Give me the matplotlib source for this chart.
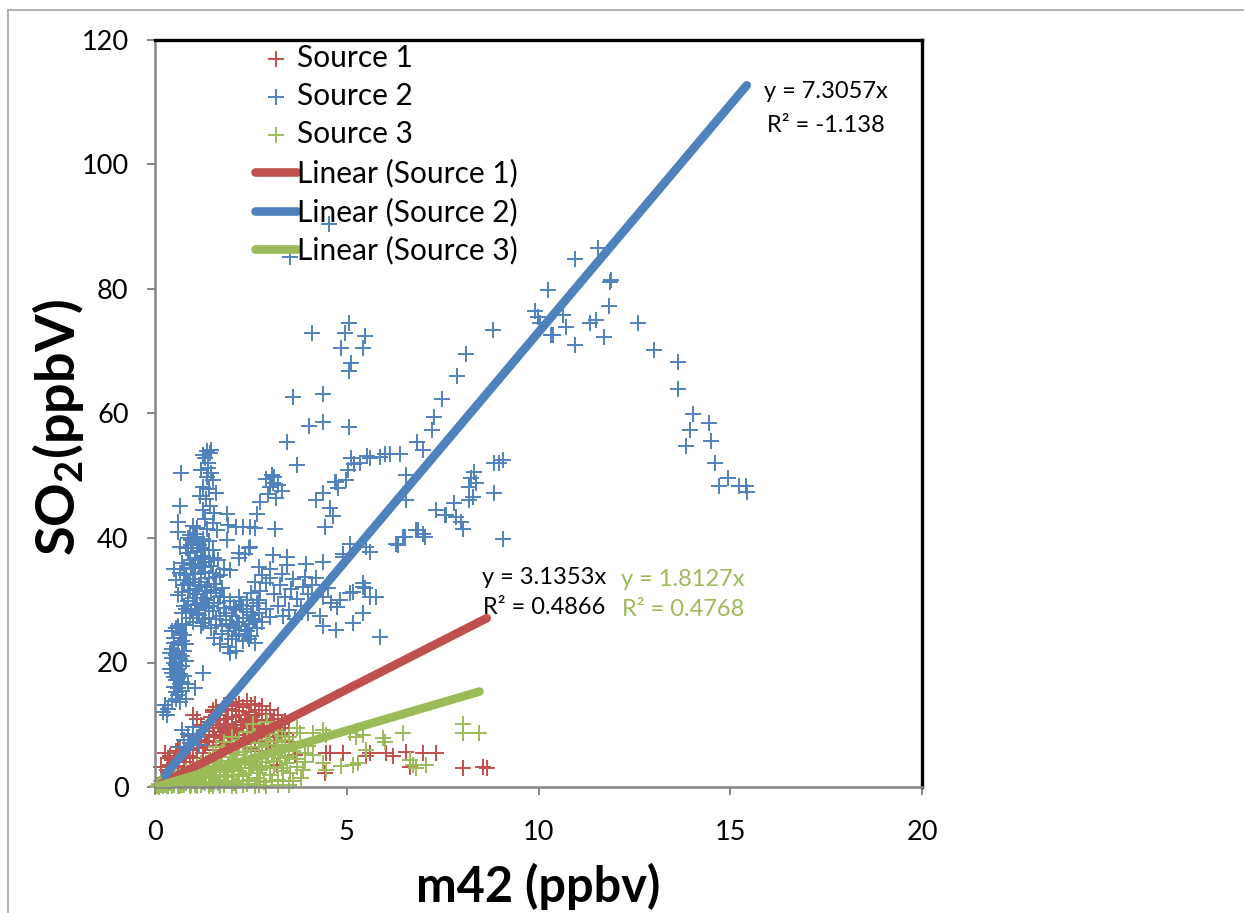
import numpy as np
import matplotlib
matplotlib.use('Agg')
import matplotlib.pyplot as plt
from matplotlib.lines import Line2D

plt.rcParams['font.family'] = ['Lato', 'DejaVu Sans']
plt.rcParams['mathtext.fontset'] = 'custom'
plt.rcParams['mathtext.rm'] = 'Lato'
plt.rcParams['mathtext.bf'] = 'Lato:bold'

# ---------------- data ----------------
series_names = ['Source 1', 'Source 2', 'Source 3']
trend_names = ['Linear (Source 1)', 'Linear (Source 2)', 'Linear (Source 3)']
slopes = [3.1353, 7.3057, 1.8127]
r2_text = ['0.4866', '-1.138', '0.4768']
x_ticks = [0, 5, 10, 15, 20]
y_ticks = [0, 20, 40, 60, 80, 100, 120]

# Source 1 (red)
s1_cluster = [(1.5,12.0),(1.7,11.5),(1.9,12.6),(2.1,13.0),(2.3,12.8),(2.5,13.2),(2.7,12.4),(2.9,11.8),(3.1,11.0),(3.3,10.2),
              (1.4,10.5),(1.6,10.8),(1.8,10.2),(2.0,11.2),(2.2,11.6),(2.4,11.0),(2.6,11.5),(2.8,10.6),(3.0,9.8),(3.2,9.2),
              (1.3,9.0),(1.5,9.4),(1.7,8.8),(1.9,9.6),(2.1,10.0),(2.3,9.4),(2.5,10.2),(2.7,9.0),(2.9,8.6),(3.1,8.0),
              (1.2,7.6),(1.4,8.0),(1.6,7.4),(1.8,8.2),(2.0,8.6),(2.2,7.8),(2.4,8.4),(2.6,7.6),(2.8,7.2),(3.0,6.8),
              (1.1,6.2),(1.3,6.6),(1.5,6.0),(1.7,6.8),(1.9,7.0),(2.1,6.4),(2.3,6.9),(2.5,6.2),(2.7,5.8),(3.3,7.5),
              (0.9,5.0),(1.0,8.2),(1.0,11.6),(1.5,12.4),(2.2,12.2),(2.45,12.0),(2.0,12.4),(2.35,10.6),(1.85,11.0),(2.65,10.8),
              (0.2,1.5),(0.3,2.8),(0.4,3.6),(0.5,4.4),(0.6,3.0),(0.7,5.2),(0.35,4.6),(0.15,3.2),(0.25,5.5),(0.8,4.0),
              (0.45,2.2),(0.55,5.8),(3.4,8.6),(3.5,6.0),(3.65,5.1),(3.17,3.5),(2.9,5.0)]
s1_dense = [(1.6,12.8),(1.8,13.2),(2.0,13.6),(2.2,13.4),(2.4,13.8),(2.6,13.4),(2.8,13.0),(3.0,12.4),(3.2,11.6),(3.4,10.6),
            (1.45,11.2),(1.65,9.9),(1.85,9.3),(2.05,9.1),(2.25,10.4),(2.45,9.6),(2.65,9.8),(2.85,9.4),(3.05,10.4),(3.25,8.4),
            (1.35,7.2),(1.55,8.4),(1.75,7.8),(1.95,8.0),(2.15,8.8),(2.35,7.4),(2.55,8.8),(2.75,8.0),(2.95,7.6),(3.15,6.6),
            (0.6,6.4),(0.9,7.0),(1.2,10.0),(1.1,11.0),(0.4,5.0),(0.75,3.4),(0.85,6.0),(1.0,4.6),(1.25,5.4),(1.6,5.2),
            (3.5,9.5),(3.6,7.2),(3.4,4.8)]
s1_outliers = [(4.47,5.4),(4.56,5.4),(4.43,2.2),(5.51,4.9),(5.6,5.4),(6.03,5.4),(6.55,5.7),(6.64,3.2),
               (6.99,5.4),(7.33,5.4),(8.03,3.0),(8.55,3.2),(8.65,3.0),(4.9,5.4),(6.2,5.0)]

# Source 2 (blue)
s2_upper = [(4.53,90.4),(3.53,85.2),(11.54,86.6),(10.96,84.8),(11.9,81.4),(10.24,79.8),(11.87,81.2),(11.85,77.3),
            (12.59,74.5),(13.02,70.2),(13.65,68.2),(13.65,64.0),(14.04,59.9),(13.95,57.3),(13.85,54.7),(14.45,58.5),
            (14.5,55.6),(14.61,52.1),(14.93,49.7),(14.71,48.4),(15.23,48.4),(15.41,48.4),(15.43,47.4),
            (11.33,74.5),(11.5,75.0),(11.72,72.3),(10.96,71.0),(10.72,73.9),(10.63,75.8),(10.37,72.6),(9.9,76.4),
            (9.98,75.5),(10.03,74.6),(10.33,72.6),(8.81,73.4),(8.1,69.6),(7.87,66.0),(7.49,62.3),(7.28,59.5),
            (7.23,57.3),(6.83,55.5),(6.99,54.2),(9.07,52.5),(8.98,52.0),(8.85,52.0),(8.33,50.6),(8.25,49.6),
            (8.38,48.8),(8.2,48.2),(8.29,46.6),(8.2,46.1),(8.85,47.2),(7.79,45.6),(7.34,44.5),(7.55,43.7),
            (7.86,43.4),(7.99,42.6),(8.03,41.5),(9.07,39.9),(6.86,41.3),(7.03,40.2),(6.51,40.2),(6.34,38.9),(7.6,43.7)]
s2_mid = [(4.10,73.0),(5.06,74.6),(4.95,73.0),(5.47,72.5),(4.84,70.6),(5.43,70.6),(5.12,68.1),(5.05,66.9),
          (3.60,62.7),(4.38,63.1),(4.02,58.0),(4.38,58.7),(5.06,57.8),(3.45,55.5),(3.71,51.8),(5.11,52.9),
          (5.18,51.9),(5.52,53.1),(5.03,50.9),(4.73,49.0),(4.99,49.3),(4.37,47.2),(4.21,46.1),(4.56,44.8),
          (4.63,43.5),(4.43,41.8),(3.13,41.4),(5.34,52.0),(5.6,52.9),(5.86,53.0),(5.99,53.5),(6.12,53.5),
          (6.38,53.5),(6.55,50.1),(6.54,46.1),(4.69,49.0),(4.77,48.0),(5.08,39.1),(4.9,37.5),(5.51,38.6),
          (5.6,37.8),(6.29,39.1),(6.47,40.2),(6.81,41.3),(6.99,40.7),
          (3.08,48.8),(2.9,49.5),(3.0,48.2),(3.1,49.8),(3.2,48.5),(3.3,47.6),(2.95,47.0),(3.15,46.5),(3.05,50.2),
          (2.73,45.8),(2.66,43.9),(2.47,41.8),(2.1,41.8),(2.3,41.8),(2.6,41.6),(1.87,43.9),(1.61,41.3),(1.87,39.7),(1.9,42.1)]
s2_right_low = [(5.86,24.1),(4.38,25.8),(4.73,25.2),(5.16,26.3),(5.43,27.9),(4.82,30.0),(5.08,31.1),(5.42,32.1),
                (5.77,30.6),(4.38,30.5),(5.42,32.8),(5.47,32.0),(5.16,31.3),(5.6,30.5),(4.74,28.9),(3.08,37.3),
                (3.43,37.0),(3.95,35.9),(4.38,36.2),(4.9,37.0),(4.2,33.5),(4.5,32.0),(4.3,27.5),(4.6,29.5)]
s2_col_a = [(1.35,53.9),(1.26,53.4),(1.43,53.6),(1.30,52.8),(1.39,52.0),(1.47,50.4),(1.35,49.8),(1.26,48.2),
            (1.52,49.3),(1.40,47.8),(1.17,46.7),(1.34,46.2),(1.43,45.1),(1.60,47.2),(1.25,44.5),(1.55,44.0),
            (1.30,43.0),(0.65,45.1),(0.60,42.5),(1.0,42.0),(0.67,50.4),(1.1,41.6),(1.5,42.4),(1.2,50.9),
            (1.45,54.2),(1.38,51.2)]
s2_core = [(0.9,40.5),(1.0,39.2),(1.1,40.1),(1.2,38.4),(0.85,37.6),(1.05,36.8),(1.25,37.1),(1.4,39.5),(1.5,38.0),
           (0.7,36.0),(0.95,35.2),(1.15,35.9),(1.3,34.6),(1.45,35.5),(0.8,34.1),(1.0,33.4),(1.2,33.0),(1.35,32.2),
           (1.6,33.8),(0.75,32.5),(0.9,31.6),(1.1,31.0),(1.25,30.4),(1.45,31.2),(0.6,30.8),(0.85,29.9),(1.05,29.2),
           (1.3,28.8),(1.55,29.6),(1.7,30.5),(0.95,28.2),(1.15,27.6),(1.4,27.2),(0.7,27.9),(1.6,27.0),(0.55,33.2),
           (0.5,35.0),(0.65,38.5),(0.6,41.0),(1.35,41.5),(1.65,36.5),(1.8,35.0),(1.75,32.0),(1.0,26.5),(1.2,25.8),
           (1.45,25.5),(0.8,26.0),(1.1,37.8),(0.95,38.8),(1.3,36.2),(1.2,34.3),(0.9,33.0),(1.05,31.8),(1.35,30.0),
           (1.15,28.5),(0.75,29.0),(1.5,34.4),(1.0,35.6),(0.85,40.0),(1.25,39.8),
           (0.95,39.6),(1.15,38.9),(1.05,40.6),(1.3,38.0),(0.8,38.4),(0.9,36.4),(1.2,36.6),(1.4,36.8),(0.75,35.1),
           (1.05,34.2),(1.25,35.4),(1.4,33.6),(0.85,32.8),(1.15,32.4),(1.3,31.5),(1.55,32.6),(0.7,31.4),(1.0,30.4),
           (1.2,29.6),(1.4,29.0),(0.8,28.6),(1.1,28.0),(1.3,27.0),(1.5,28.2),(0.9,27.2),(1.25,26.4),(1.6,31.6),
           (1.7,34.0),(1.55,36.8),(0.65,34.4)]
s2_c2 = [(1.65,29.5),(1.8,28.8),(1.95,29.8),(2.1,28.5),(2.25,29.3),(2.4,28.1),(2.55,29.0),(1.7,27.5),(1.85,26.8),
         (2.0,27.4),(2.15,26.5),(2.3,27.2),(2.45,26.2),(2.6,27.0),(1.75,25.8),(1.9,25.0),(2.05,25.6),(2.2,24.6),
         (2.35,25.3),(2.5,24.2),(2.65,25.5),(1.6,26.0),(2.0,23.8),(2.3,23.5),(2.7,28.0),(2.7,30.0),(1.8,30.6),
         (2.2,30.5),(2.5,31.2),(1.9,22.5),(2.1,21.8),(2.8,26.5),(2.9,28.6),(3.0,27.3),(1.55,24.0),(2.4,30.0),
         (2.6,23.2),(1.7,23.0),(1.85,28.0),(2.05,28.9),(2.3,28.6),(2.5,27.6),(1.95,26.2),(2.2,25.8),(2.4,25.0),
         (2.55,26.6),(2.1,24.2),(2.45,23.8),(1.75,24.5),(2.65,29.6)]
s2_c3 = [(2.75,31.5),(2.9,32.8),(3.1,31.0),(3.25,32.5),(3.4,30.6),(3.55,31.8),(3.7,30.2),(3.85,32.2),(4.0,31.0),
         (2.8,34.0),(3.0,33.6),(3.3,34.2),(3.6,33.4),(3.2,29.0),(3.5,28.5),(3.8,29.0),(3.0,35.0),(2.6,33.0),
         (3.45,35.6),(3.9,33.8),(4.1,32.5),(3.35,27.5),(3.65,27.0),(4.0,28.0),(2.2,36.8),(2.35,37.4),(2.45,38.4),
         (2.47,38.6),(2.2,37.6),(1.95,34.9),(2.7,35.4)]
s2_col_b = [(0.55,25.5),(0.65,24.8),(0.5,24.0),(0.7,23.5),(0.6,22.8),(0.45,22.2),(0.75,21.8),(0.55,21.2),(0.65,20.6),
            (0.5,20.0),(0.7,19.5),(0.6,18.9),(0.45,18.3),(0.75,17.8),(0.55,17.2),(0.65,16.6),(0.5,16.0),(0.7,15.5),
            (0.6,14.8),(0.8,14.2),(0.65,13.6),(0.4,19.0),(0.8,20.3),(0.8,23.0),(0.45,25.0),(0.7,26.2),(0.6,17.5),
            (0.55,15.2),(0.85,16.5),(0.4,21.5),(1.25,18.3),(1.04,15.9),(1.95,21.5),(0.25,13.2),(0.35,12.5),
            (0.3,11.5),(0.45,13.8),(0.2,12.0),(0.7,9.2),(0.85,8.5),(1.0,9.6),(0.75,7.6),(0.95,7.0),(1.1,8.0),
            (0.65,6.4),(1.15,6.8),(0.5,23.2),(0.6,21.8),(0.7,21.0),(0.55,19.6),(0.65,18.2),(0.5,17.6),(0.7,16.9),
            (0.55,14.2),(0.6,25.9),(0.75,24.4),(0.45,20.8),(0.6,15.9)]

# Source 3 (green)
s3_cluster = [(0.05,0.2),(0.1,0.5),(0.15,0.3),(0.2,0.8),(0.25,0.4),(0.3,1.0),(0.35,0.6),(0.4,1.3),(0.45,0.2),
              (0.5,0.9),(0.55,1.5),(0.6,0.5),(0.65,1.8),(0.7,1.1),(0.75,0.3),(0.8,2.0),(0.85,1.4),(0.9,0.7),
              (0.95,2.4),(1.0,1.6),(1.05,0.4),(1.1,2.6),(1.15,1.2),(1.2,3.0),(1.25,0.8),(1.3,2.2),(1.35,3.4),
              (1.4,1.5),(1.45,0.5),(1.5,2.8),(1.55,3.8),(1.6,1.9),(1.65,0.7),(1.7,3.2),(1.75,4.2),(1.8,2.4),
              (1.85,1.0),(1.9,3.6),(1.95,4.8),(2.0,2.7),(2.05,0.6),(2.1,4.0),(2.15,5.2),(2.2,1.8),(2.25,3.0),
              (2.3,5.6),(2.35,4.4),(2.4,0.9),(2.45,2.2),(2.5,6.0),(2.55,3.6),(2.6,4.8),(2.65,1.4),(2.7,6.4),
              (2.75,2.8),(2.8,5.2),(2.85,0.8),(2.9,4.0),(2.95,6.8),(3.0,2.0),(3.05,5.6),(3.1,3.2),(3.15,7.2),
              (3.2,1.2),(3.25,4.6),(3.3,6.2),(3.35,2.6),(3.4,7.6),(3.45,3.8),(3.5,5.0),
              (0.3,0.1),(0.6,0.2),(0.9,0.1),(1.2,0.3),(1.5,0.1),(1.8,0.4),(2.1,0.2),(2.4,0.5),(2.7,0.3),
              (0.4,0.7),(0.7,0.4),(1.0,0.9),(1.3,0.6),(1.6,1.2),(1.9,0.9),
              (2.56,10.2),(2.91,10.5),(2.0,8.0),(2.4,8.8),(1.6,6.5),(1.8,7.2),(2.2,7.5),(2.6,8.2),(3.0,8.5),
              (3.2,9.0),(3.5,8.0),(3.6,6.8),(3.3,8.2)]
s3_dense = [(0.1,0.0),(0.2,0.2),(0.35,0.1),(0.5,0.4),(0.65,0.1),(0.8,0.6),(0.95,0.3),(1.1,0.1),(1.25,1.4),(1.4,0.2),
            (1.55,0.8),(1.7,0.2),(1.85,1.6),(2.0,0.1),(2.15,1.0),(2.3,0.3),(2.45,1.2),(2.6,0.1),(2.75,1.0),(2.9,0.2),
            (3.05,1.0),(3.2,0.3),(3.35,0.9),(3.5,0.3),(2.2,2.6),(2.5,3.0),(2.8,3.4),(3.1,4.2),(3.4,4.6),(1.6,2.6),
            (1.9,2.0),(2.3,2.0),(2.7,2.2),(3.0,3.0),(3.3,3.0),(1.0,2.2),(1.3,1.6),(0.6,1.2),(0.9,1.8),(1.7,4.8),
            (2.0,5.4),(2.4,6.4),(2.7,7.0),(3.2,5.4),(3.6,5.8),(3.7,3.2),(3.8,1.5),(3.6,1.0),(3.9,4.0),(3.2,6.8),
            (2.9,7.6),(2.2,6.6),(1.4,4.4),(1.2,3.8),(0.8,2.6),(0.5,1.8),(0.2,1.2),(0.15,0.9),(2.05,3.4),(2.65,4.0),
            (2.95,5.0),(1.75,5.6),(1.5,4.9),(1.1,3.4)]
s3_outliers = [(3.69,9.4),(3.78,8.6),(4.12,8.6),(4.38,9.2),(4.47,8.4),(5.08,8.6),(5.25,8.1),(5.43,8.4),(5.95,7.8),
               (6.47,8.6),(8.03,10.2),(8.03,8.6),(8.46,8.6),(4.12,5.1),(4.38,3.8),(4.47,2.7),(4.86,3.3),(5.16,3.5),
               (5.29,3.8),(6.64,4.3),(6.73,3.5),(6.81,3.0),(7.07,3.5),(3.86,2.7),(3.52,2.2),(3.7,4.5),(3.9,5.5),
               (4.0,6.6),(5.5,6.0),(6.0,7.2)]

s1 = np.array(s1_cluster + s1_dense + s1_outliers)
s2 = np.array(s2_upper + s2_mid + s2_right_low + s2_col_a + s2_core + s2_c2 + s2_c3 + s2_col_b)
s3 = np.array(s3_cluster + s3_dense + s3_outliers)
series = [s1, s2, s3]
trend_start = [0.15, 0.26, 0.05]

colors = ['#C0504D', '#4F81BD', '#9BBB59']

# ---------------- figure ----------------
W, H = 1244, 913
fig = plt.figure(figsize=(W / 100, H / 100), dpi=100)
fx = lambda px: px / W
fy = lambda py: 1 - py / H

ax = fig.add_axes([fx(155), fy(787), 767 / W, 747 / H])

scat = []
for i, (d, c) in enumerate(zip(series, colors)):
    sc = ax.scatter(d[:, 0], d[:, 1], marker='+', s=130, linewidths=1.4, color=c,
                    clip_on=False, zorder=2 + i * 0.1, label=series_names[i])
    scat.append(sc)

lines = []
for i, (d, c) in enumerate(zip(series, colors)):
    xs = np.array([trend_start[i], d[:, 0].max()])
    ln, = ax.plot(xs, slopes[i] * xs, color=c, lw=6.2, solid_capstyle='round',
                  zorder=3 + i * 0.1, label=trend_names[i])
    lines.append(ln)

ax.set_xlim(0, 20)
ax.set_ylim(0, 120)
ax.set_xticks(x_ticks)
ax.set_yticks(y_ticks)
ax.tick_params(axis='both', direction='out', length=6, width=1.4, color='#868686',
               labelsize=19.5, labelcolor='black')
ax.tick_params(axis='y', pad=13)
ax.tick_params(axis='x', pad=18)
for s in ['left', 'bottom']:
    ax.spines[s].set_color('#868686')
    ax.spines[s].set_linewidth(1.8)
for s in ['top', 'right']:
    ax.spines[s].set_color('black')
    ax.spines[s].set_linewidth(2.4)

ax.set_xlabel('m42 (ppbv)', fontsize=35, fontweight='bold')
ax.xaxis.set_label_coords(0.5, (787 - 886) / 747)
ax.xaxis.label.set_va('center')
ax.set_ylabel(r'SO$_\mathbf{2}$(ppbV)', fontsize=39, fontweight='bold')
ax.yaxis.set_label_coords((58 - 155) / 767, (787 - 428) / 747)
ax.yaxis.label.set_va('center')

leg = ax.legend(scat + lines, series_names + trend_names, loc='upper left',
                bbox_to_anchor=((255 - 155) / 767, (787 - 44) / 747),
                frameon=False, fontsize=21.5, handlelength=1.42, handletextpad=0.0,
                labelspacing=0.34, borderpad=0, borderaxespad=0, scatterpoints=1)

# trendline equations
lab_pos = [((544, 577), (544, 607)), ((826, 92), (826, 126)), ((683, 580), (683, 609))]
lab_col = ['black', 'black', colors[2]]
for i in range(3):
    (x1, y1), (x2, y2) = lab_pos[i]
    fig.text(fx(x1), fy(y1), f'y = {slopes[i]:.4f}x', ha='center', va='center',
             fontsize=17, color=lab_col[i])
    fig.text(fx(x2), fy(y2), f'R² = {r2_text[i]}', ha='center', va='center',
             fontsize=17, color=lab_col[i])

# chart-area border
fig.add_artist(Line2D([fx(8), 1], [fy(10), fy(10)], transform=fig.transFigure, color='#A6A6A6', lw=1.2))
fig.add_artist(Line2D([fx(8), fx(8)], [fy(10), 0], transform=fig.transFigure, color='#A6A6A6', lw=1.2))

fig.savefig('out.png', dpi=100)
